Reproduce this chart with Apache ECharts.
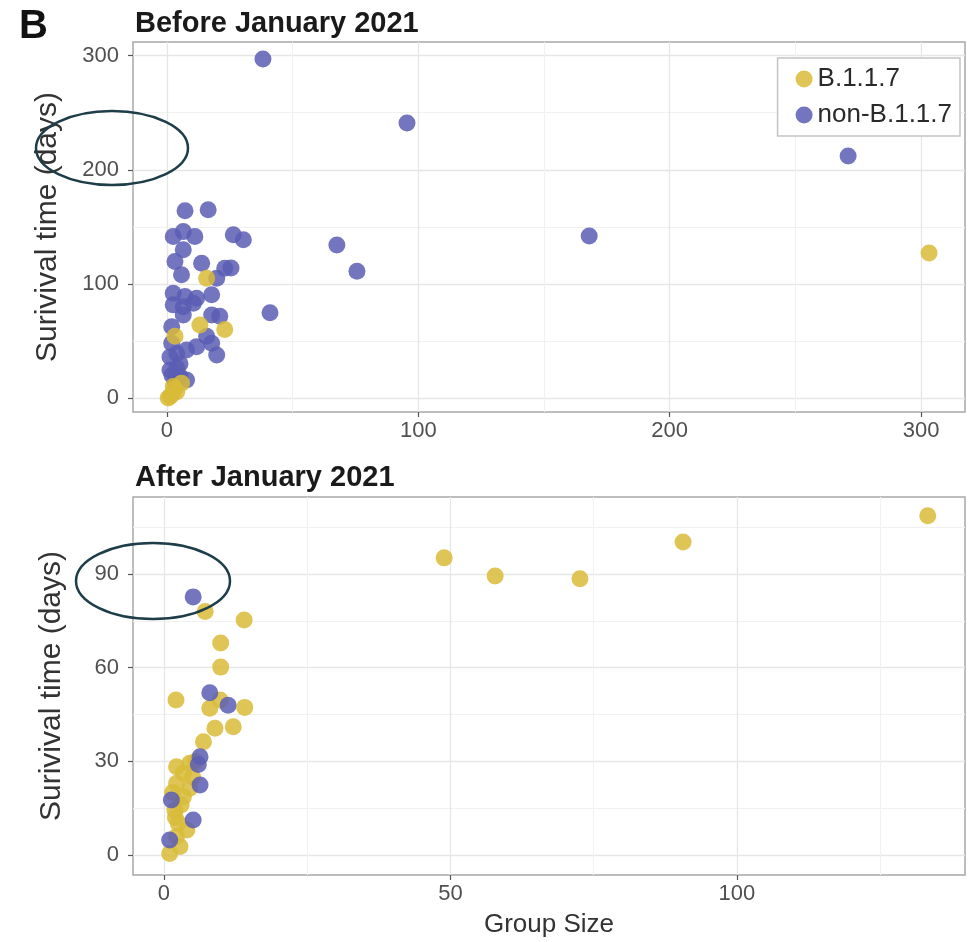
<!DOCTYPE html>
<html>
<head>
<meta charset="utf-8">
<script src="https://cdn.jsdelivr.net/npm/echarts@6/dist/echarts.min.js"></script>
<style>html,body{margin:0;padding:0;background:#fff}#c{width:970px;height:942px}</style>
</head>
<body>
<div id="c"></div>
<script>
// ---- data ----
const seriesNames = ['B.1.1.7', 'non-B.1.1.7'];
const beforeB117 = [[303.2,127],[15.8,105],[13.1,64],[23,60],[3.2,54],[2.5,10],[5.8,13],[3.9,5.5],[1.2,1.2],[0.5,0],[2,3],[3,8]];
const beforeNonB117 = [[38.2,297],[95.5,241],[271,212],[168,142],[67.6,134],[75.6,111],[41,74.6],
  [7.2,164],[16.4,165],[2.5,141.5],[6.5,145.8],[11.1,141.5],[26.4,143],[30.4,138.6],[6.5,130],[3.2,119.6],[13.8,118],
  [5.8,108],[23,113.7],[25.5,114],[19.8,105],[2.5,91.8],[7.2,89],[11.8,87.4],[17.8,90.4],[2.5,81.6],[6.5,80],[10.5,83],
  [6.5,72.8],[17.8,72.8],[21,71.6],[1.9,62.5],[1.9,48],[15.8,54],[17.8,48],[19.8,37.7],[11.8,45],[7.8,42],[3.9,39],
  [1.2,36],[5.2,30],[1.2,24.6],[7.8,15.8],[3.2,14.3],[5.2,18.7],[2,20],[4,26]];
const afterB117 = [[133.3,108.7],[90.6,100.3],[48.9,95.2],[57.8,89.4],[72.6,88.5],[7.2,78],[14,75.3],[9.9,67.9],[9.9,60.2],
  [2.1,49.7],[9.8,49.7],[8,47],[14.1,47.3],[8.9,40.6],[12.1,41.1],[6.9,36.3],[5.5,30],[4.5,29.4],[2.2,28.3],[3.4,26.2],
  [4.5,21.4],[2.2,23],[3.4,18.7],[1.9,14.4],[2.5,10.2],[2.2,5.9],[1,0.5],[2.8,2.7],[4,8],[1.5,20],[2,12],[5,25],[3,16]];
const afterNonB117 = [[5.1,82.7],[8,52],[11.2,48],[6.3,31.5],[6.3,22.4],[1.3,17.6],[5.1,11.2],[1,4.8],[6,29]];
const beforeXTicks = [0,100,200,300];
const beforeXMinor = [50,150,250];
const beforeYTicks = [0,100,200,300];
const beforeYMinor = [50,150,250];
const afterXTicks = [0,50,100];
const afterXMinor = [25,75,125];
const afterYTicks = [0,30,60,90];
const afterYMinor = [15,45,75,105];
const panelTitles = ['Before January 2021', 'After January 2021'];
const panelTag = 'B';
const xAxisTitle = 'Group Size';
const yAxisTitle = 'Surivival time (days)';

// ---- styles ----
const YELLOW = '#d8bb38';
const BLUE = '#5a5db4';
const FONT = 'Liberation Sans, Arial, sans-serif';
const labelStyle = {color:'#505050', fontSize:22, fontFamily:FONT};

function dataAxis(grid, pos, minor, min, max){
  return {type:'value', gridIndex:grid, position:pos, min:min, max:max,
    axisLine:{show:false, onZero:false},
    axisTick:{show:false, customValues:minor},
    axisLabel:{show:false, customValues:minor},
    splitLine:{show:true, lineStyle:{color:'#f1f1f1', width:1}}};
}
function labelAxis(grid, pos, ticks, min, max, margin, extra){
  return Object.assign({type:'value', gridIndex:grid, position:pos, min:min, max:max,
    axisLine:{show:false, onZero:false},
    axisTick:{show:true, length:5, customValues:ticks, lineStyle:{color:'#555', width:1.2}},
    axisLabel:Object.assign({customValues:ticks, margin:margin}, labelStyle),
    splitLine:{show:true, lineStyle:{color:'#e6e6e6', width:1.3}}}, extra||{});
}
const chart = echarts.init(document.getElementById('c'), null, {renderer:'canvas'});
const pt = (name, color, data, ai, z) => ({
  name:name, type:'scatter', xAxisIndex:ai, yAxisIndex:ai, data:data, symbolSize:17, z:z,
  itemStyle:{color:color, opacity:0.85}, emphasis:{disabled:true}
});
const yName = {name:yAxisTitle, nameLocation:'middle', nameTextStyle:{fontSize:30, color:'#333', fontFamily:FONT}};
chart.setOption({
  backgroundColor:'#fff',
  animation:false,
  title:[
    {text:panelTitles[0], left:130, top:4, textStyle:{fontSize:29, fontWeight:'bold', color:'#1a1a1a', fontFamily:FONT}},
    {text:panelTitles[1], left:130, top:458, textStyle:{fontSize:29, fontWeight:'bold', color:'#1a1a1a', fontFamily:FONT}},
    {text:panelTag, left:14, top:2, textStyle:{fontSize:40, fontWeight:'bold', color:'#111', fontFamily:FONT}}
  ],
  legend:{
    data:seriesNames, orient:'vertical', right:10, top:58, icon:'circle', itemWidth:17, itemHeight:17,
    itemGap:10, padding:[8,8,8,18], borderColor:'#c4c4c4', borderWidth:1.5, backgroundColor:'#fff',
    textStyle:{fontSize:26, color:'#2a2a2a', fontFamily:FONT}
  },
  grid:[
    {left:133, right:5, top:42, height:370, show:true, borderColor:'#a8a8a8', borderWidth:1.5, backgroundColor:'transparent', outerBoundsMode:'none', containLabel:false},
    {left:133, right:5, top:497, height:378, show:true, borderColor:'#a8a8a8', borderWidth:1.5, backgroundColor:'transparent', outerBoundsMode:'none', containLabel:false}
  ],
  xAxis:[
    dataAxis(0, 'bottom', beforeXMinor, -13.5, 317.5),
    labelAxis(0, 'bottom', beforeXTicks, -13.5, 317.5, 8),
    dataAxis(1, 'bottom', afterXMinor, -5.4, 139.8),
    labelAxis(1, 'bottom', afterXTicks, -5.4, 139.8, 8, {name:xAxisTitle, nameLocation:'middle', nameGap:37,
      nameTextStyle:{fontSize:26, color:'#333', fontFamily:FONT}})
  ],
  yAxis:[
    dataAxis(0, 'left', beforeYMinor, -12.3, 312),
    labelAxis(0, 'left', beforeYTicks, -12.3, 312, 14, Object.assign({nameGap:70}, yName)),
    dataAxis(1, 'left', afterYMinor, -6.4, 114.7),
    labelAxis(1, 'left', afterYTicks, -6.4, 114.7, 14, Object.assign({nameGap:66}, yName))
  ],
  series:[
    pt(seriesNames[1], BLUE, beforeNonB117, 0, 2),
    pt(seriesNames[0], YELLOW, beforeB117, 0, 3),
    pt(seriesNames[0], YELLOW, afterB117, 2, 2),
    pt(seriesNames[1], BLUE, afterNonB117, 2, 3)
  ],
  graphic:[
    {type:'ellipse', shape:{cx:112, cy:148, rx:76, ry:37}, style:{fill:'none', stroke:'#1e3d48', lineWidth:2.5}, z:100},
    {type:'ellipse', shape:{cx:153, cy:581, rx:77, ry:38}, style:{fill:'none', stroke:'#1e3d48', lineWidth:2.5}, z:100}
  ]
});
</script>
</body>
</html>
